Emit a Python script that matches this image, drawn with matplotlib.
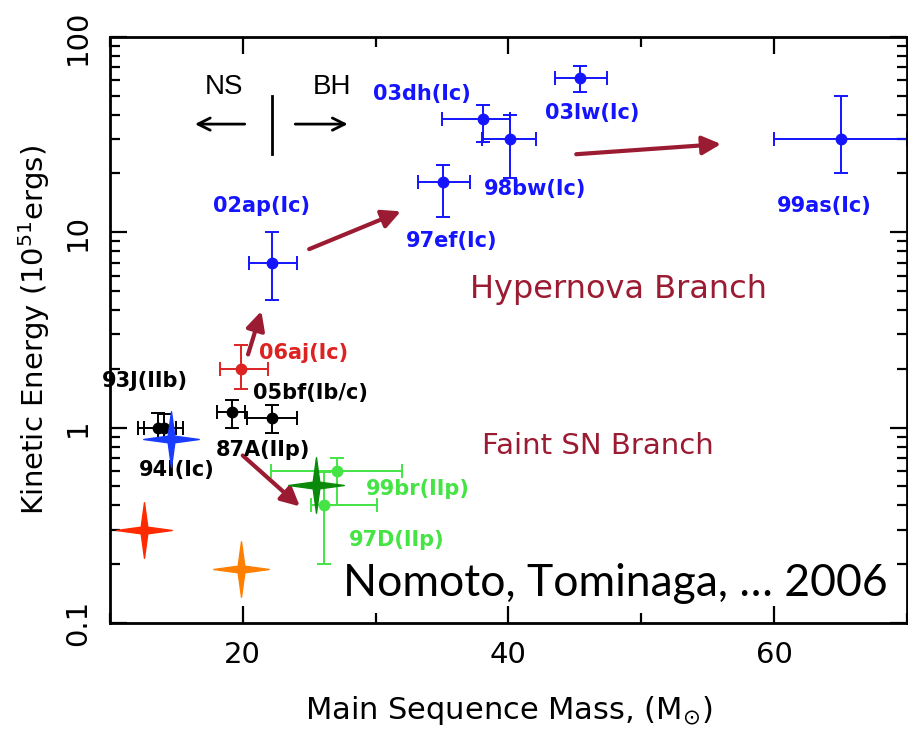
import numpy as np
import matplotlib.pyplot as plt
from matplotlib.path import Path
from matplotlib.ticker import FixedLocator, MultipleLocator, NullFormatter

# supernova data: mass, energy, x-error (lo, hi), y-error (lo, hi)
blue_names = ['02ap(Ic)', '97ef(Ic)', '03dh(Ic)', '98bw(Ic)', '03lw(Ic)', '99as(Ic)']
blue_mass = [22.2, 35.1, 38.1, 40.1, 45.4, 65.0]
blue_ek = [7.0, 18.0, 38.0, 30.0, 62.0, 30.0]
blue_xlo = [1.7, 1.9, 3.1, 2.1, 1.9, 5.0]
blue_xhi = [1.9, 2.0, 2.0, 2.0, 2.0, 5.0]
blue_ylo = [2.5, 6.0, 9.0, 11.0, 9.5, 10.0]
blue_yhi = [3.0, 4.0, 7.0, 10.0, 9.0, 20.0]

red_mass = [19.9]
red_ek = [2.0]
red_xerr = [[1.6], [2.0]]
red_yerr = [[0.43], [0.65]]

black_names = ['93J(IIb)', '94I(Ic)', '87A(IIp)', '05bf(Ib/c)']
black_mass = [13.6, 14.1, 19.2, 22.2]
black_ek = [1.0, 1.0, 1.2, 1.12]
black_xlo = [1.5, 1.5, 1.1, 1.9]
black_xhi = [1.4, 1.4, 1.0, 1.9]
black_ylo = [0.13, 0.15, 0.2, 0.18]
black_yhi = [0.19, 0.17, 0.19, 0.18]

green_names = ['99br(IIp)', '97D(IIp)']
green_mass = [27.1, 26.1]
green_ek = [0.6, 0.4]
green_xlo = [5.0, 1.0]
green_xhi = [4.9, 4.0]
green_ylo = [0.2, 0.2]
green_yhi = [0.1, 0.19]

star_mass = [14.6, 25.5, 12.6, 19.85]
star_ek = [0.87, 0.51, 0.30, 0.19]
star_colors = ['#1a3cff', '#0a8a0a', '#ff2a00', '#ff8000']

# arrows (start, end) in data coordinates
branch_arrows = [((25.0, 8.2), (31.9, 12.8)),
                 ((45.1, 25.1), (56.0, 28.3)),
                 ((20.4, 2.37), (21.4, 3.95)),
                 ((20.0, 0.72), (24.3, 0.395))]

label_pos = {
    '02ap(Ic)': (21.4, 13.7), '97ef(Ic)': (35.7, 9.0), '03dh(Ic)': (33.5, 51.0),
    '98bw(Ic)': (42.0, 16.6), '03lw(Ic)': (46.3, 41.0), '99as(Ic)': (63.8, 13.6),
    '93J(IIb)': (12.6, 1.74), '94I(Ic)': (15.0, 0.61), '87A(IIp)': (21.5, 0.77),
    '05bf(Ib/c)': (25.1, 1.51), '99br(IIp)': (33.2, 0.487), '97D(IIp)': (31.6, 0.266),
}

BLUE = '#1414ff'
GREEN = '#44e444'
RED = '#dd2222'
MAROON = '#9b1b32'

fig = plt.figure(figsize=(9.08, 7.39), dpi=100)
ax = fig.add_axes([0.121, 0.157, 0.878, 0.793])
ax.set_yscale('log')
ax.set_xlim(10, 70)
ax.set_ylim(0.1, 100)

ebkw = dict(fmt='o', ms=7.5, capsize=5, elinewidth=1.4, capthick=1.4)
ax.errorbar(blue_mass, blue_ek, xerr=[blue_xlo, blue_xhi], yerr=[blue_ylo, blue_yhi],
            color=BLUE, **ebkw)
ax.errorbar(red_mass, red_ek, xerr=red_xerr, yerr=red_yerr, color=RED, **ebkw)
ax.errorbar(black_mass, black_ek, xerr=[black_xlo, black_xhi], yerr=[black_ylo, black_yhi],
            color='black', **ebkw)
ax.errorbar(green_mass, green_ek, xerr=[green_xlo, green_xhi], yerr=[green_ylo, green_yhi],
            color=GREEN, **ebkw)

# four-pointed star marker
a = 0.12
star = Path([(0, 1), (a, a), (1, 0), (a, -a), (0, -1), (-a, -a), (-1, 0), (-a, a), (0, 1)],
            [Path.MOVETO] + [Path.LINETO] * 7 + [Path.CLOSEPOLY])
for m, e, c in zip(star_mass, star_ek, star_colors):
    ax.plot(m, e, marker=star, ms=40, color=c, mec=c, ls='none', zorder=5)

for (s, t) in branch_arrows:
    ax.annotate('', xy=t, xytext=s,
                arrowprops=dict(arrowstyle='-|>', color=MAROON, lw=3, mutation_scale=28,
                                shrinkA=0, shrinkB=0))

lab_font = dict(family='DejaVu Sans', fontsize=15, fontweight='bold', ha='center', va='center')
for n in blue_names:
    ax.text(*label_pos[n], n, color=BLUE, **lab_font)
for n in black_names:
    ax.text(*label_pos[n], n, color='black', **lab_font)
for n in green_names:
    ax.text(*label_pos[n], n, color=GREEN, **lab_font)
ax.text(24.6, 2.42, '06aj(Ic)', color=RED, **lab_font)

ax.text(48.3, 5.1, 'Hypernova Branch', color=MAROON, fontsize=23, ha='center', va='center')
ax.text(46.7, 0.81, 'Faint SN Branch', color=MAROON, fontsize=21, ha='center', va='center')

# NS / BH divider
ax.text(18.6, 55.5, 'NS', fontsize=20, ha='center', va='center', family='Liberation Sans')
ax.text(26.7, 55.5, 'BH', fontsize=20, ha='center', va='center', family='Liberation Sans')
ax.plot([22.2, 22.2], [25.2, 49.8], color='black', lw=2)
ax.annotate('', xy=(16.4, 35.8), xytext=(20.15, 35.8),
            arrowprops=dict(arrowstyle='->', color='black', lw=2, mutation_scale=22,
                            shrinkA=0, shrinkB=0))
ax.annotate('', xy=(27.9, 35.8), xytext=(23.95, 35.8),
            arrowprops=dict(arrowstyle='->', color='black', lw=2, mutation_scale=22,
                            shrinkA=0, shrinkB=0))

ax.text(0.976, 0.068, 'Nomoto, Tominaga, \u2026 2006', transform=ax.transAxes,
        fontsize=32, family='Lato', ha='right', va='center', zorder=6)

# ticks
ax.xaxis.set_major_locator(MultipleLocator(20))
ax.xaxis.set_minor_locator(MultipleLocator(10))
ax.yaxis.set_major_locator(FixedLocator([0.1, 1, 10, 100]))
ax.yaxis.set_minor_locator(FixedLocator([k * 10.0 ** d for d in range(-1, 2) for k in range(2, 10)]))
ax.yaxis.set_minor_formatter(NullFormatter())
ax.set_yticklabels(['0.1', '1', '10', '100'])
ax.tick_params(which='both', direction='in', top=True, right=True, width=1.6,
               labelsize=21, pad=13)
ax.tick_params(which='major', length=12)
ax.tick_params(which='minor', length=7)
for lbl in ax.get_yticklabels():
    lbl.set_rotation(90)
    lbl.set_verticalalignment('center')
for sp in ax.spines.values():
    sp.set_linewidth(2)

ax.set_xlabel(r'Main Sequence Mass, (M$_{\odot}$)', fontsize=22)
ax.set_ylabel(r'Kinetic Energy (10$^{51}$ergs)', fontsize=21)
ax.xaxis.set_label_coords(0.5, -0.122)
ax.yaxis.set_label_coords(-0.073, 0.5)

fig.savefig('out.png', dpi=100)
